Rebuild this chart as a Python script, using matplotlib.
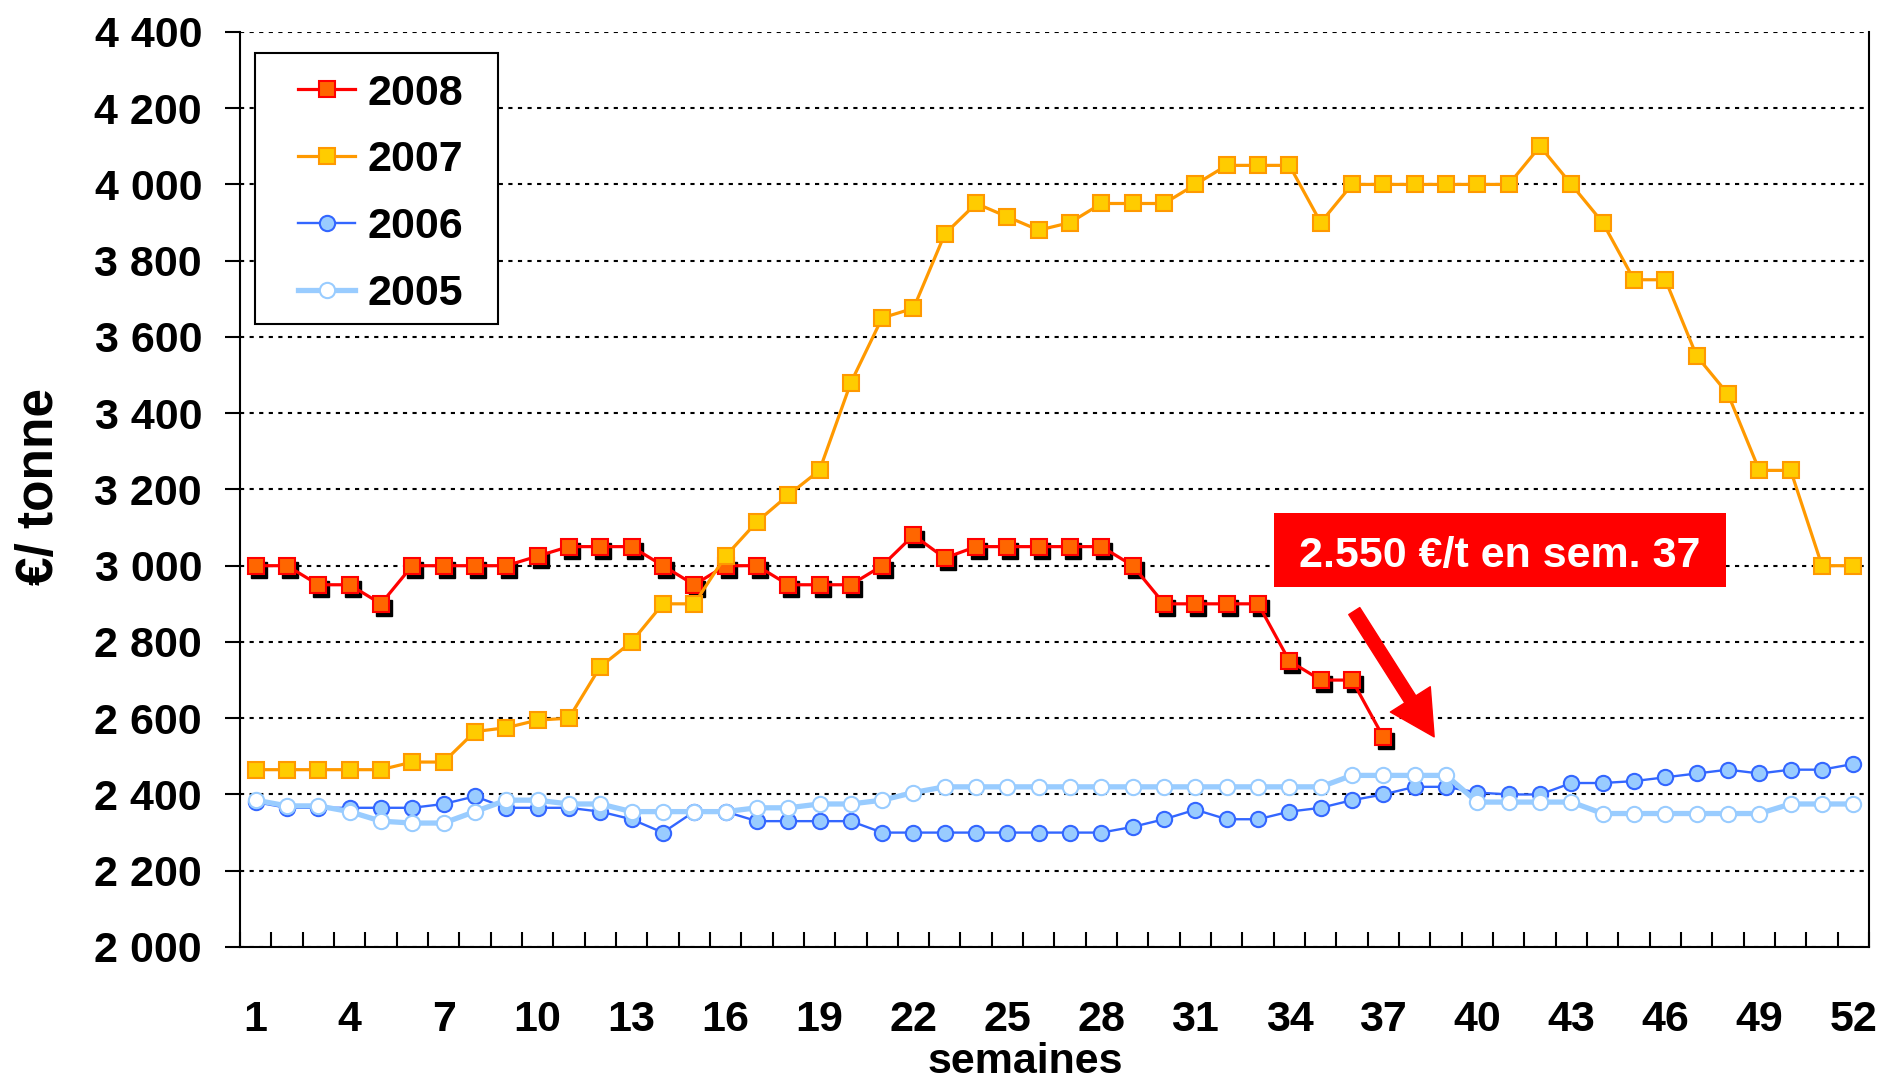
import matplotlib
matplotlib.use("Agg")
import matplotlib.pyplot as plt
import matplotlib.transforms as mtransforms
from matplotlib.lines import Line2D
from matplotlib.patches import Rectangle
from matplotlib.ticker import FixedLocator, FuncFormatter, MultipleLocator

plt.rcParams["font.family"] = ["Liberation Sans", "DejaVu Sans"]
plt.rcParams["font.weight"] = "bold"

# ── data (€/tonne per week) ───────────────────────────────────────────────────
weeks = list(range(1, 53))

p2008 = [3000, 3000, 2950, 2950, 2900, 3000, 3000, 3000, 3000, 3025,
         3050, 3050, 3050, 3000, 2950, 3000, 3000, 2950, 2950, 2950,
         3000, 3080, 3020, 3050, 3050, 3050, 3050, 3050, 3000, 2900,
         2900, 2900, 2900, 2750, 2700, 2700, 2550]

p2007 = [2465, 2465, 2465, 2465, 2465, 2485, 2485, 2565, 2575, 2595,
         2600, 2735, 2800, 2900, 2900, 3025, 3115, 3185, 3250, 3480,
         3650, 3675, 3870, 3950, 3915, 3880, 3900, 3950, 3950, 3950,
         4000, 4050, 4050, 4050, 3900, 4000, 4000, 4000, 4000, 4000,
         4000, 4100, 4000, 3900, 3750, 3750, 3550, 3450, 3250, 3250,
         3000, 3000]

p2006 = [2380, 2365, 2365, 2365, 2365, 2365, 2375, 2395, 2365, 2365,
         2365, 2355, 2335, 2300, 2355, 2355, 2330, 2330, 2330, 2330,
         2300, 2300, 2300, 2300, 2300, 2300, 2300, 2300, 2315, 2335,
         2360, 2335, 2335, 2355, 2365, 2385, 2400, 2420, 2420, 2405,
         2400, 2400, 2430, 2430, 2435, 2445, 2455, 2465, 2455, 2465,
         2465, 2480]

p2005 = [2385, 2370, 2370, 2355, 2330, 2325, 2325, 2355, 2385, 2385,
         2375, 2375, 2355, 2355, 2355, 2355, 2365, 2365, 2375, 2375,
         2385, 2405, 2420, 2420, 2420, 2420, 2420, 2420, 2420, 2420,
         2420, 2420, 2420, 2420, 2420, 2450, 2450, 2450, 2450, 2380,
         2380, 2380, 2380, 2350, 2350, 2350, 2350, 2350, 2350, 2375,
         2375, 2375]

week_labels = list(range(1, 53, 3))
y_ticks = list(range(2000, 4401, 200))

note_text = "2.550 €/t en sem. 37"

FS = 31

# ── figure ───────────────────────────────────────────────────────────────────
fig = plt.figure(figsize=(18.85, 10.82), dpi=100)
ax = fig.add_axes([0.1273, 0.1248, 0.8642, 0.8457])

s2008 = dict(color="#FF0000", lw=2.3, marker="s", ms=11.5, mfc="#FF6600",
             mec="#FF0000", mew=1.5)
s2007 = dict(color="#FF9900", lw=2.3, marker="s", ms=11.5, mfc="#FFCC00",
             mec="#FF9900", mew=1.5)
s2006 = dict(color="#3366FF", lw=1.7, marker="o", ms=11, mfc="#99CCFF",
             mec="#3366FF", mew=1.5)
s2005 = dict(color="#99CCFF", lw=3.8, marker="o", ms=11, mfc="white",
             mec="#99CCFF", mew=1.5)

# drop shadow under the 2008 markers
shadow = ax.transData + mtransforms.ScaledTranslation(3 / 100, -4 / 100,
                                                      fig.dpi_scale_trans)
ax.plot(weeks[:len(p2008)], p2008, ls="none", marker="s", ms=11.5,
        mfc="black", mec="black", transform=shadow, zorder=2)
ax.plot(weeks[:len(p2008)], p2008, zorder=3, **s2008)
ax.plot(weeks, p2007, zorder=4, **s2007)
ax.plot(weeks, p2006, zorder=5, **s2006)
ax.plot(weeks, p2005, zorder=6, **s2005)

ax.set_xlim(0.5, 52.5)
ax.set_ylim(2000, 4400)

# axes styling
for side in ("left", "bottom", "right"):
    ax.spines[side].set_linewidth(1.5)
    ax.spines[side].set_color("black")
ax.spines["top"].set_visible(False)

ax.yaxis.set_major_locator(FixedLocator(y_ticks))
ax.yaxis.set_major_formatter(
    FuncFormatter(lambda v, p: f"{int(v):,}".replace(",", " ")))
ax.xaxis.set_major_locator(FixedLocator(week_labels))
ax.xaxis.set_minor_locator(MultipleLocator(1, offset=0.5))
ax.tick_params(axis="x", which="major", length=0, pad=38, labelsize=FS)
ax.tick_params(axis="x", which="minor", direction="in", length=10.8,
               width=1.5)
ax.tick_params(axis="y", which="major", direction="out", length=10.8,
               width=1.5, pad=16.5, labelsize=FS)
ax.tick_params(axis="y", which="minor", left=False)

ax.set_axisbelow(True)
ax.yaxis.grid(True, color="black", linestyle=(0, (2, 2.6)), linewidth=1.5)

ax.set_ylabel("€/ tonne", fontsize=37, fontweight="bold")
ax.yaxis.set_label_coords(-0.108, 0.503)
ax.set_xlabel("semaines", fontsize=FS, fontweight="bold")
ax.xaxis.set_label_coords(0.482, -0.104)

# legend with its own frame
ax.add_patch(Rectangle((0.0092, 0.681), 0.1492, 0.2962, transform=ax.transAxes,
                       facecolor="white", edgecolor="black", lw=1.5, zorder=9))
handles = [Line2D([], [], **s2008), Line2D([], [], **s2007),
           Line2D([], [], **s2006), Line2D([], [], **s2005)]
leg = ax.legend(handles, ["2008", "2007", "2006", "2005"], loc="upper left",
                bbox_to_anchor=(0.0356, 0.9545), frameon=False, borderpad=0,
                borderaxespad=0, fontsize=FS, handlelength=1.33,
                handletextpad=0.28, labelspacing=0.62)
leg.set_zorder(10)
for t in leg.get_texts():
    t.set_fontweight("bold")

# annotation box + arrow
ax.add_patch(Rectangle((33.51, 2944), 47.93 - 33.51, 3138 - 2944,
                       facecolor="#FF0000", edgecolor="none", zorder=11))
ax.text(40.72, 3025, note_text, color="white", fontsize=FS,
        fontweight="bold", ha="center", va="center", zorder=12)
ax.annotate("", xy=(38.62, 2551), xytext=(36.07, 2881),
            arrowprops=dict(arrowstyle="simple,head_length=32,head_width=34,"
                                       "tail_width=9.4",
                            mutation_scale=1, color="#FF0000",
                            shrinkA=0, shrinkB=0),
            zorder=11)

fig.savefig("out.png", dpi=100)
